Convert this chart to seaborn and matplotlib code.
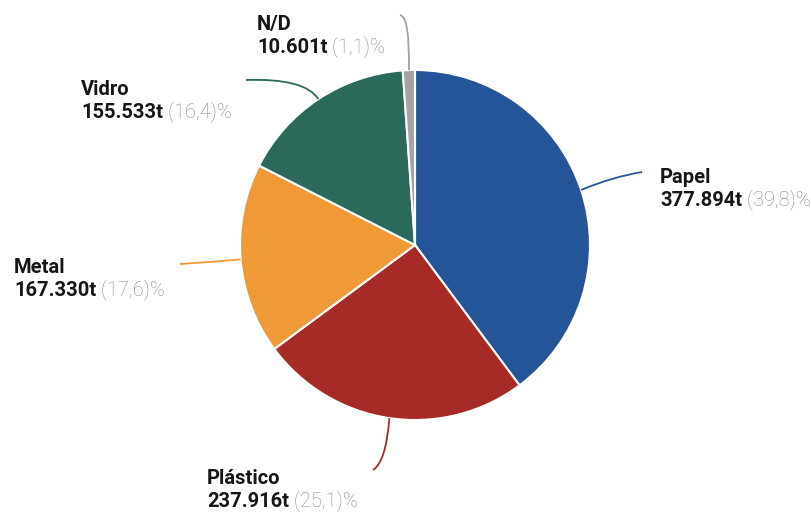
import numpy as np
import matplotlib
matplotlib.use("Agg")
import matplotlib.pyplot as plt
from matplotlib.path import Path
from matplotlib.patches import PathPatch
import seaborn as sns

# data
categories = ["Papel", "Plástico", "Metal", "Vidro", "N/D"]
tonnes = [377894, 237916, 167330, 155533, 10601]
value_labels = ["377.894t", "237.916t", "167.330t", "155.533t", "10.601t"]
pct_labels = ["(39,8)%", "(25,1)%", "(17,6)%", "(16,4)%", "(1,1)%"]
colors = ["#235598", "#a62b26", "#f09a37", "#2b6a5b", "#a3a3a3"]

sns.set_theme(style="white")
plt.rcParams['font.family'] = ['Roboto', 'DejaVu Sans']

W, H = 812, 513
fig = plt.figure(figsize=(W / 100, H / 100), dpi=100)
ax = fig.add_axes([0, 0, 1, 1])

cx, cy, r = 415, H - 245, 175
wedges, _ = ax.pie(tonnes, colors=colors, startangle=90, counterclock=False,
                   center=(cx, cy), radius=r, frame=True,
                   wedgeprops=dict(edgecolor="white", linewidth=1.5))
ax.set_xlim(0, W)
ax.set_ylim(0, H)
ax.set_aspect("equal")
ax.axis("off")

# label layout (screen px from top): text x, first baseline, leader end, control point
layout = {
    "Papel":    dict(tx=660, ty=183, end=(642, 172), ctrl=(612, 177)),
    "Plástico": dict(tx=207, ty=484, end=(373, 470), ctrl=(386, 462)),
    "Metal":    dict(tx=14,  ty=273, end=(180, 264), ctrl=(212, 262)),
    "Vidro":    dict(tx=81,  ty=95,  end=(246, 80),  ctrl=(305, 78)),
    "N/D":      dict(tx=257, ty=30,  end=(400, 15),  ctrl=(410, 17)),
}

fs = 14.5
line_gap = 23
for w, name, val, pct, col in zip(wedges, categories, value_labels, pct_labels, colors):
    L = layout[name]
    # leader starts at the middle of the wedge's arc
    ang = np.deg2rad((w.theta1 + w.theta2) / 2)
    sx, sy = cx + r * np.cos(ang), cy + r * np.sin(ang)
    ex, ey = L["end"][0], H - L["end"][1]
    kx, ky = L["ctrl"][0], H - L["ctrl"][1]
    path = Path([(sx, sy), (kx, ky), (ex, ey)], [Path.MOVETO, Path.CURVE3, Path.CURVE3])
    ax.add_patch(PathPatch(path, fill=False, edgecolor=col, linewidth=1.3))

    ax.text(L["tx"], H - L["ty"], name, fontsize=fs, fontweight="bold",
            color="#161616", va="baseline", ha="left")
    t = ax.text(L["tx"], H - L["ty"] - line_gap, val, fontsize=fs, fontweight="bold",
                color="#161616", va="baseline", ha="left")
    ax.annotate(" " + pct, xy=(1, 0), xycoords=t, xytext=(0, 0), textcoords="offset points",
                fontsize=fs, fontweight="light", color="#8a8a8a", va="bottom", ha="left")

fig.savefig("out.png", dpi=100, facecolor="white")
